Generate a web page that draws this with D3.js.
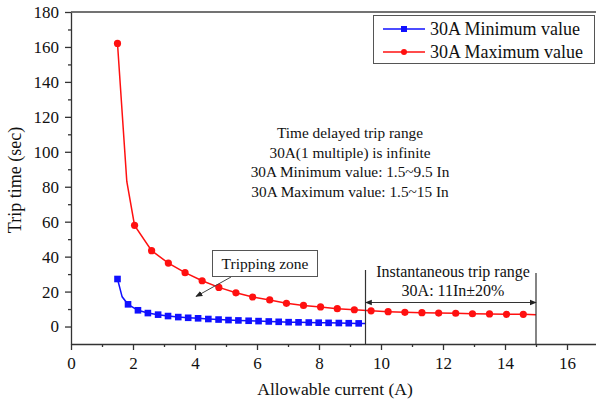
<!DOCTYPE html>
<html>
<head>
<meta charset="utf-8">
<script src="https://cdn.jsdelivr.net/npm/d3@7"></script>
<style>
	body { margin: 0; background: #fff; }
	svg, svg text { font-family: "Liberation Serif", "Times New Roman", "DejaVu Serif", serif; }
	text { fill: #111; }
	.axis path, .axis line { stroke: #333; stroke-width: 1.3px; }
</style>
</head>
<body>
<div id="content"></div>
<script>

	var serif = "'Liberation Serif', 'Times New Roman', serif";

	// 30A minimum value curve
	var minX = [1.5, 1.65, 1.84, 2.16, 2.48, 2.81, 3.13, 3.46, 3.78, 4.1, 4.43, 4.76, 5.08, 5.4, 5.73, 6.05, 6.38, 6.7, 7.02, 7.34, 7.67, 7.99, 8.31, 8.64, 8.96, 9.28, 9.5];
	var minY = [27.2, 17, 12.7, 9.3, 7.7, 6.8, 6.0, 5.4, 5.0, 4.7, 4.3, 4.0, 3.7, 3.5, 3.3, 3.1, 2.9, 2.7, 2.5, 2.4, 2.3, 2.2, 2.1, 2.0, 1.9, 1.8, 1.8];
	var minLineOnly = [1.65, 9.5];

	// 30A maximum value curve
	var maxX = [1.5, 1.8, 2.05, 2.6, 3.14, 3.68, 4.23, 4.77, 5.32, 5.86, 6.41, 6.95, 7.5, 8.05, 8.59, 9.14, 9.68, 10.23, 10.77, 11.32, 11.86, 12.41, 12.95, 13.5, 14.05, 14.59, 15.0];
	var maxY = [162, 83, 57.9, 43.4, 36.3, 30.8, 26.2, 22.4, 19.3, 16.9, 15.2, 13.3, 12.1, 11.2, 10.2, 9.6, 9.0, 8.5, 8.1, 7.9, 7.7, 7.6, 7.3, 7.2, 7.0, 7.0, 6.8];
	var maxLineOnly = [1.8, 15.0];

	var xTicks = [0, 2, 4, 6, 8, 10, 12, 14, 16];
	var xMinor = [1, 3, 5, 7, 9, 11, 13, 15, 17];
	var yTicks = [0, 20, 40, 60, 80, 100, 120, 140, 160, 180];
	var yMinor = [10, 30, 50, 70, 90, 110, 130, 150, 170];

	var infoLines = ["Time delayed trip range", "30A(1 multiple) is infinite", "30A Minimum value: 1.5~9.5 In", "30A Maximum value: 1.5~15 In"];
	var instantLines = ["Instantaneous trip range", "30A: 11In\u00B120%"];
	var instantRange = [9.5, 15];

	var width = 596, height = 399;
	var svg = d3.select("#content").append("svg")
	    .attr("width", width).attr("height", height)
	    .attr("font-family", serif);

	var x = d3.scaleLinear().domain([0, 17]).range([71, 598]);
	var y = d3.scaleLinear().domain([-10, 180]).range([344, 12]);

	// axes
	svg.append("g").attr("class", "axis")
	    .attr("transform", "translate(0,344)")
	    .call(d3.axisBottom(x).tickValues(xTicks).tickSize(6).tickSizeOuter(0).tickFormat(d3.format("d")))
	    .attr("font-family", serif).attr("font-size", 17)
	    .call(g => g.selectAll("text").attr("dy", "0.95em").attr("fill", "#111"));
	svg.append("g").attr("class", "axis")
	    .attr("transform", "translate(0,344)")
	    .call(d3.axisBottom(x).tickValues(xMinor).tickSize(3).tickFormat(""))
	    .call(g => g.select("path").remove());

	svg.append("g").attr("class", "axis")
	    .attr("transform", "translate(71,0)")
	    .call(d3.axisLeft(y).tickValues(yTicks).tickSize(6).tickSizeOuter(0))
	    .attr("font-family", serif).attr("font-size", 17)
	    .call(g => g.selectAll("text").attr("x", -12).attr("fill", "#111"));
	svg.append("g").attr("class", "axis")
	    .attr("transform", "translate(71,0)")
	    .call(d3.axisLeft(y).tickValues(yMinor).tickSize(3).tickFormat(""))
	    .call(g => g.select("path").remove());

	// top frame line
	svg.append("line")
	    .attr("x1", x(0)).attr("x2", width)
	    .attr("y1", y(180)).attr("y2", y(180))
	    .attr("stroke", "#444").attr("stroke-width", 1.6);

	svg.append("text")
	    .attr("transform", "translate(21,180) rotate(-90)")
	    .attr("text-anchor", "middle")
	    .attr("font-size", 18)
	    .text("Trip time (sec)");

	svg.append("text")
	    .attr("x", 335).attr("y", 395)
	    .attr("text-anchor", "middle")
	    .attr("font-size", 17.5)
	    .text("Allowable current (A)");

	// curves
	var line = d3.line().x(d => x(d[0])).y(d => y(d[1]));
	var minData = minX.map((v, i) => [v, minY[i]]);
	var maxData = maxX.map((v, i) => [v, maxY[i]]);

	svg.append("path").datum(maxData)
	    .attr("d", line).attr("fill", "none")
	    .attr("stroke", "#ff1010").attr("stroke-width", 1.5);
	svg.append("path").datum(minData)
	    .attr("d", line).attr("fill", "none")
	    .attr("stroke", "#1010ff").attr("stroke-width", 1.5);

	svg.append("g").selectAll("circle")
	    .data(maxData.filter(d => maxLineOnly.indexOf(d[0]) < 0))
	    .enter().append("circle")
	      .attr("cx", d => x(d[0])).attr("cy", d => y(d[1]))
	      .attr("r", 3.6).attr("fill", "#ff1010");

	svg.append("g").selectAll("rect")
	    .data(minData.filter(d => minLineOnly.indexOf(d[0]) < 0))
	    .enter().append("rect")
	      .attr("x", d => x(d[0]) - 3.3).attr("y", d => y(d[1]) - 3.3)
	      .attr("width", 6.6).attr("height", 6.6).attr("fill", "#1010ff");

	// legend
	var legend = svg.append("g");
	legend.append("rect")
	    .attr("x", 373.5).attr("y", 15.5).attr("width", 221).attr("height", 48)
	    .attr("fill", "#fff").attr("stroke", "#555").attr("stroke-width", 1);
	[["30A Minimum value", "#1010ff", "rect"], ["30A Maximum value", "#ff1010", "circle"]].forEach(function(e, i) {
	  var ly = 29 + i * 23;
	  legend.append("line").attr("x1", 383).attr("x2", 425).attr("y1", ly).attr("y2", ly)
	      .attr("stroke", e[1]).attr("stroke-width", 1.5);
	  if (e[2] == "rect") {
	    legend.append("rect").attr("x", 401).attr("y", ly - 3).attr("width", 6).attr("height", 6).attr("fill", e[1]);
	  } else {
	    legend.append("circle").attr("cx", 404).attr("cy", ly).attr("r", 3).attr("fill", e[1]);
	  }
	  legend.append("text").attr("x", 430).attr("y", ly + 6)
	      .attr("font-family", serif).attr("font-size", 18).text(e[0]);
	});

	// info text block
	svg.append("g").selectAll("text")
	    .data(infoLines)
	    .enter().append("text")
	      .attr("x", 350).attr("y", (d, i) => 138 + i * 19.6)
	      .attr("text-anchor", "middle").attr("font-size", 15.3)
	      .text(d => d);

	// tripping zone label with arrow
	var defs = svg.append("defs");
	defs.append("marker").attr("id", "arr")
	    .attr("viewBox", "0 0 10 10").attr("refX", 9).attr("refY", 5)
	    .attr("markerWidth", 7).attr("markerHeight", 7).attr("orient", "auto-start-reverse")
	    .attr("markerUnits", "userSpaceOnUse")
	  .append("path").attr("d", "M0,1L10,5L0,9Z").attr("fill", "#222");

	svg.append("line")
	    .attr("x1", 231).attr("y1", 277).attr("x2", 196).attr("y2", 296.5)
	    .attr("stroke", "#444").attr("stroke-width", 1).attr("marker-end", "url(#arr)");
	svg.append("rect")
	    .attr("x", 212.5).attr("y", 250.5).attr("width", 105).attr("height", 26)
	    .attr("fill", "#fff").attr("stroke", "#555").attr("stroke-width", 1);
	svg.append("text")
	    .attr("x", 265).attr("y", 269).attr("text-anchor", "middle")
	    .attr("font-size", 15.5).text("Tripping zone");

	// instantaneous trip range
	instantRange.forEach(function(v, i) {
	  svg.append("line")
	      .attr("x1", x(v)).attr("x2", x(v))
	      .attr("y1", i == 0 ? 270 : 273).attr("y2", 344)
	      .attr("stroke", "#333").attr("stroke-width", 1.2);
	});
	svg.append("line")
	    .attr("x1", x(instantRange[0])).attr("x2", x(instantRange[1]))
	    .attr("y1", 302.5).attr("y2", 302.5)
	    .attr("stroke", "#333").attr("stroke-width", 1)
	    .attr("marker-start", "url(#arr)").attr("marker-end", "url(#arr)");
	svg.append("g").selectAll("text")
	    .data(instantLines)
	    .enter().append("text")
	      .attr("x", 453).attr("y", (d, i) => 277 + i * 19)
	      .attr("text-anchor", "middle").attr("font-size", 16)
	      .text(d => d);

</script>
</body>
</html>
